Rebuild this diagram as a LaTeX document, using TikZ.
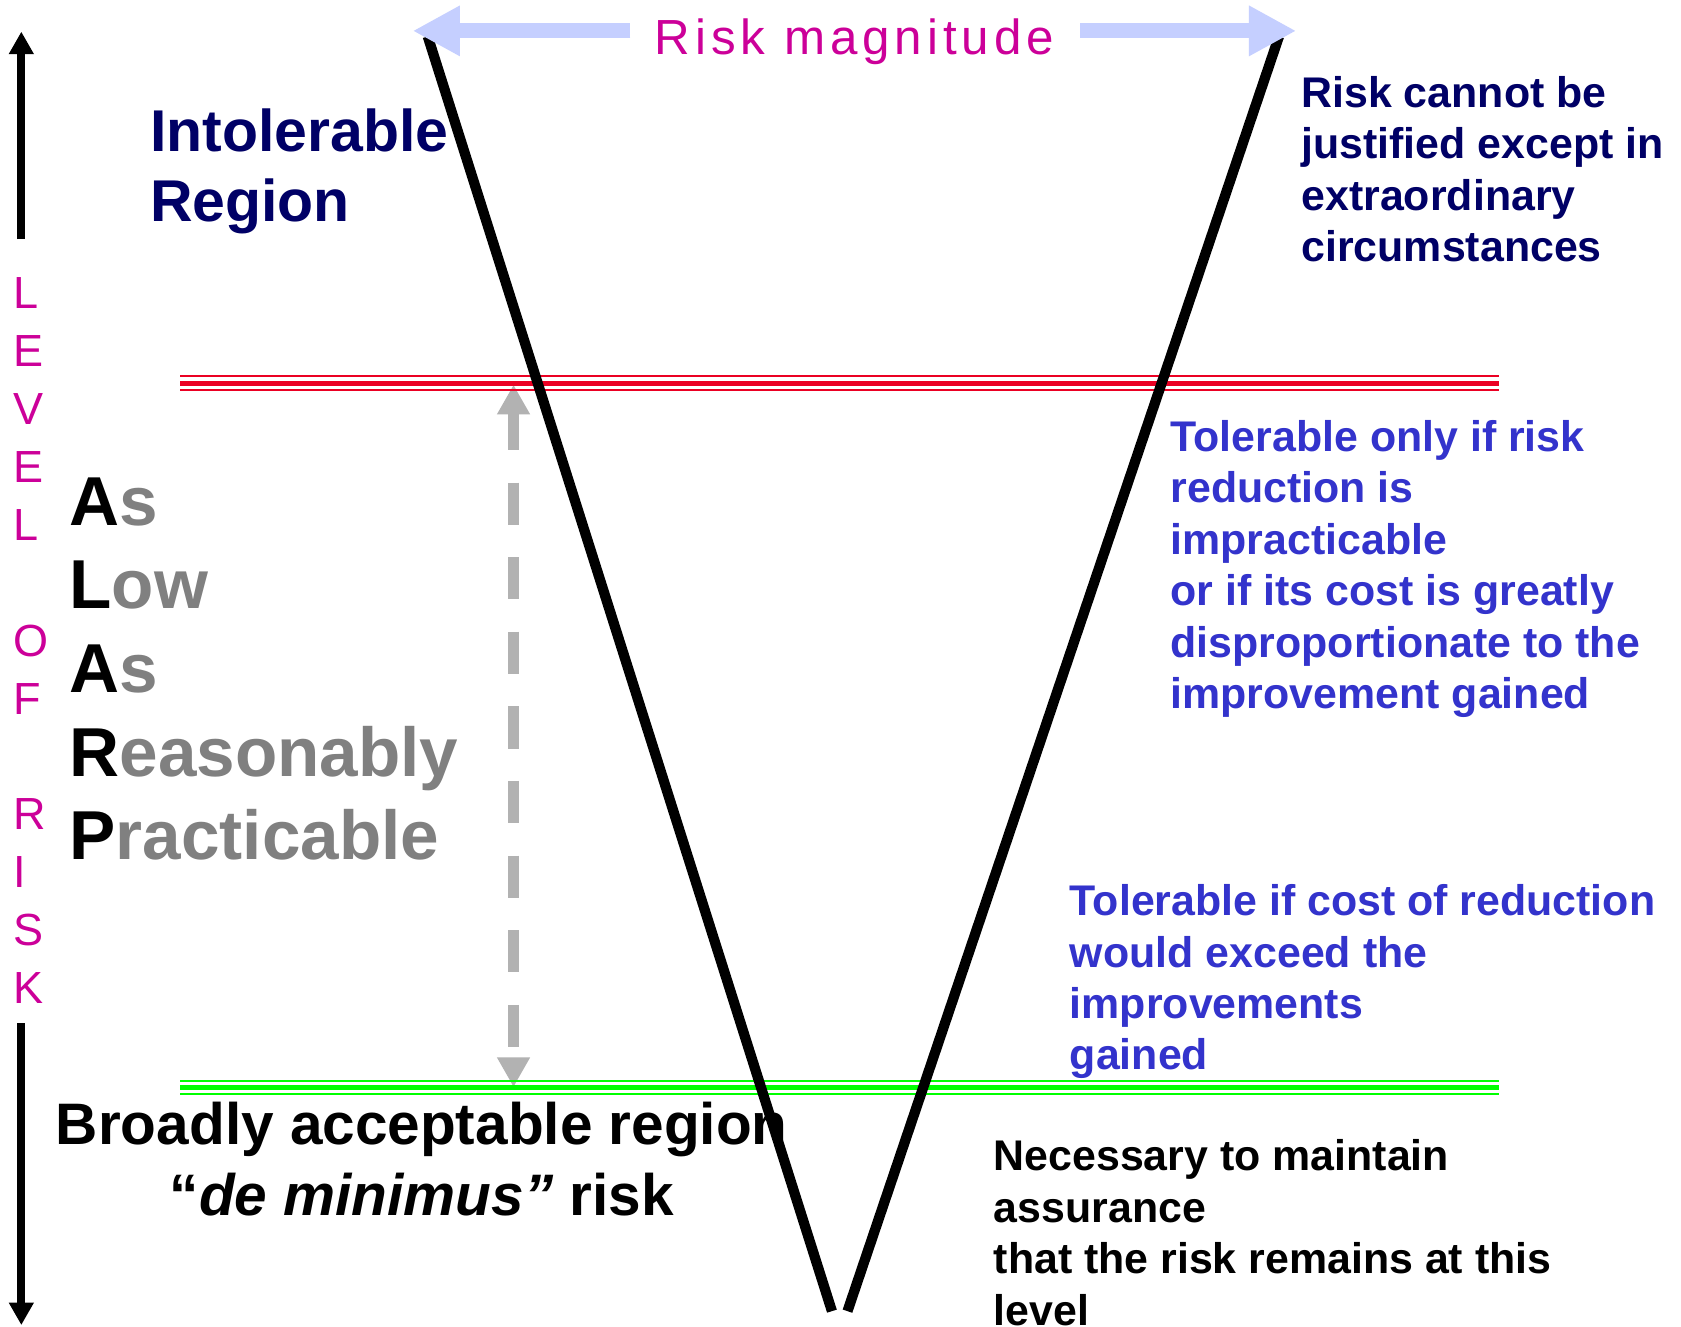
\documentclass[tikz,border=0pt]{standalone}
\usepackage{fontspec}
\setmainfont{Liberation Sans}
\newfontfamily\spacedsans[LetterSpace=10]{Liberation Sans}
\usetikzlibrary{arrows.meta}

\definecolor{navy}{RGB}{0,0,102}
\definecolor{tolblue}{RGB}{51,51,204}
\definecolor{acrogray}{RGB}{128,128,128}
\definecolor{riskmag}{RGB}{204,0,153}
\definecolor{limitred}{RGB}{235,0,35}
\definecolor{limitgreen}{RGB}{0,255,0}
\definecolor{scalearrow}{RGB}{197,207,255}
\definecolor{dashgray}{RGB}{178,178,178}

\tikzset{
  txt/.style={inner sep=0pt, outer sep=0pt, anchor=base west},
  bodytext/.style={txt, font=\fontsize{20}{24}\selectfont\bfseries},
  vline/.style={line width=4.75pt, black, line cap=butt},
  magarrow/.style={line width=7pt, scalearrow, -{Triangle[width=22pt,length=22pt]}},
  levelarrow/.style={line width=3.75pt, black, -{Triangle[width=11pt,length=10.5pt]}},
  thinlimit/.style={line width=1.1pt},
  thicklimit/.style={line width=2.35pt},
}

\begin{document}
\begin{tikzpicture}[x=0.5pt,y=-0.5pt]
\useasboundingbox[fill=white] (0,0) rectangle (1568,1237);

% ALARP band: grey dashed double arrow between the two limits
\coordinate (gTop) at (479,358.8);
\coordinate (gBot) at (479,1014);
\draw[dashgray, line width=5pt, dash pattern=on 19.7pt off 15.1pt, dash phase=2.2pt,
  {Triangle[width=14.5pt,length=13.9pt]}-{Triangle[width=14.5pt,length=13.9pt]}] (gTop) -- (gBot);

% upper limit (red) and lower limit (green), each a triple line
\coordinate (redW) at (168,357.5);
\coordinate (redE) at (1398,357.5);
\draw[limitred, thinlimit]  ([yshift=3.35pt]redW) -- ([yshift=3.35pt]redE);
\draw[limitred, thicklimit] (redW) -- (redE);
\draw[limitred, thinlimit]  ([yshift=-3pt]redW) -- ([yshift=-3pt]redE);

\coordinate (grnW) at (168,1014.7);
\coordinate (grnE) at (1398,1014.7);
\draw[limitgreen, thinlimit]  ([yshift=3.15pt]grnW) -- ([yshift=3.15pt]grnE);
\draw[limitgreen, thicklimit] (grnW) -- (grnE);
\draw[limitgreen, thinlimit]  ([yshift=-2.75pt]grnW) -- ([yshift=-2.75pt]grnE);

% vertical level-of-risk axis
\coordinate (lvTopTip) at (19.9,29.5);
\coordinate (lvTopEnd) at (19.9,223);
\coordinate (lvBotEnd) at (19.9,954.6);
\coordinate (lvBotTip) at (19.9,1236);
\draw[levelarrow] (lvTopEnd) -- (lvTopTip);
\draw[levelarrow] (lvBotEnd) -- (lvBotTip);

\node[txt, text=riskmag, font=\fontsize{21}{27}\selectfont] (levelword) at (12.5,288)
  {\begin{tabular}[t]{@{}l@{}}L\\E\\V\\E\\L\\ \\O\\F\\ \\R\\I\\S\\K\end{tabular}};

% region labels
\node[txt, text=navy, font=\fontsize{27.5}{33}\selectfont\bfseries] (intol) at (140,141)
  {\begin{tabular}[t]{@{}l@{}}Intolerable\\Region\end{tabular}};

\node[txt, text=acrogray, font=\fontsize{32.3}{39}\selectfont\bfseries] (alarp) at (65,490)
  {\begin{tabular}[t]{@{}l@{}}\textcolor{black}{A}s\\\textcolor{black}{L}ow\\\textcolor{black}{A}s\\\textcolor{black}{R}easonably\\\textcolor{black}{P}racticable\end{tabular}};

\node[inner sep=0pt, outer sep=0pt, anchor=base, font=\fontsize{27.3}{32.7}\selectfont\bfseries] (broad) at (393.5,1068)
  {\begin{tabular}[t]{@{}c@{}}Broadly acceptable region\\“\textit{de minimus”} risk\end{tabular}};

% explanatory notes
\node[bodytext, text=navy] (noteIntol) at (1214,100)
  {\begin{tabular}[t]{@{}l@{}}Risk cannot be\\justified except in\\extraordinary\\circumstances\end{tabular}};

\node[bodytext, text=tolblue] (noteUpper) at (1092,421)
  {\begin{tabular}[t]{@{}l@{}}Tolerable only if risk\\reduction is\\impracticable\\or if its cost is greatly\\disproportionate to the\\improvement gained\end{tabular}};

\node[bodytext, text=tolblue] (noteLower) at (998,854)
  {\begin{tabular}[t]{@{}l@{}}Tolerable if cost of reduction\\would exceed the\\improvements\\gained\end{tabular}};

\node[bodytext, text=black] (noteBroad) at (927,1092)
  {\begin{tabular}[t]{@{}l@{}}Necessary to maintain\\assurance\\that the risk remains at this\\level\end{tabular}};

% the risk funnel
\coordinate (vL1) at (399,34);
\coordinate (vL2) at (776,1223);
\coordinate (vR1) at (1193,34);
\coordinate (vR2) at (790.5,1223);
\draw[vline] (vL1) -- (vL2);
\draw[vline] (vR1) -- (vR2);

% risk magnitude scale across the top
\coordinate (magL) at (385,28.8);
\coordinate (magLs) at (588,28.8);
\coordinate (magRs) at (1007.5,28.8);
\coordinate (magR) at (1209,28.8);
\draw[magarrow] (magLs) -- (magL);
\draw[magarrow] (magRs) -- (magR);
\node[inner sep=0pt, anchor=base, text=riskmag, font=\fontsize{23}{27}\spacedsans] (magtext) at (797,51) {Risk magnitude};
\end{tikzpicture}
\end{document}
